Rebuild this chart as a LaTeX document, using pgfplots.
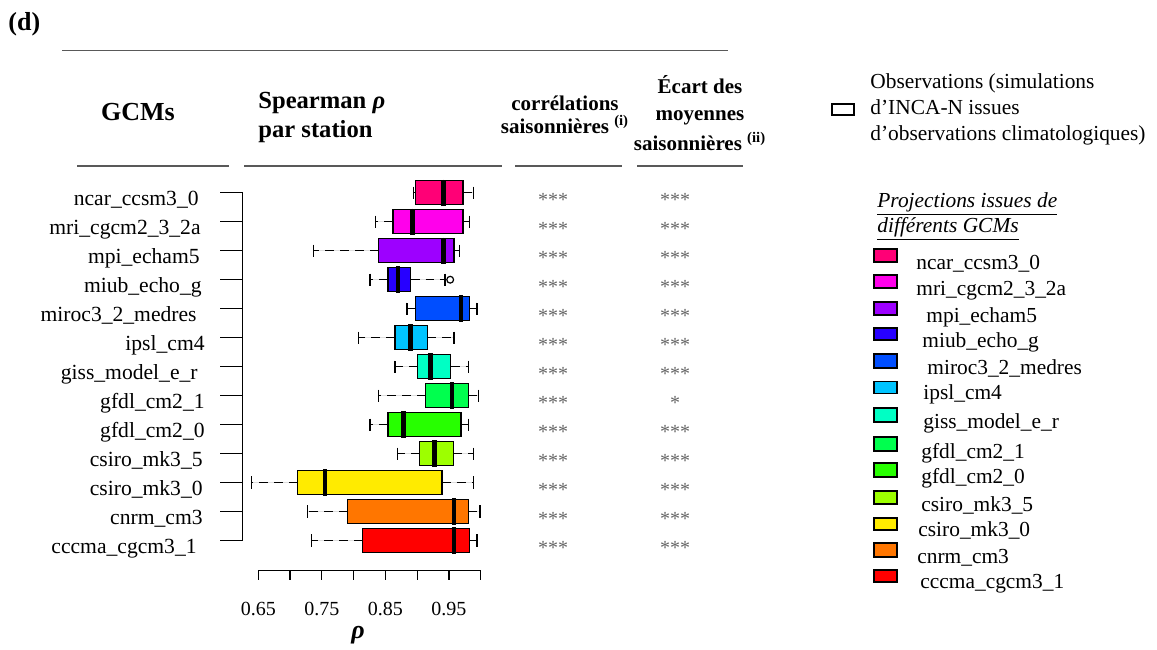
\documentclass[border=0pt]{standalone}
\usepackage{pgfplots}
\pgfplotsset{compat=1.18}
\usepgfplotslibrary{statistics}
\usepackage{fontspec}
\setmainfont{Liberation Serif}
\definecolor{cNcar}{HTML}{FF0076}
\definecolor{cMri}{HTML}{FF00EB}
\definecolor{cMpi}{HTML}{9D00FF}
\definecolor{cMiub}{HTML}{2700FF}
\definecolor{cMiroc}{HTML}{004EFF}
\definecolor{cIpsl}{HTML}{00C4FF}
\definecolor{cGiss}{HTML}{00FFC4}
\definecolor{cGfdlA}{HTML}{00FF4E}
\definecolor{cGfdlB}{HTML}{27FF00}
\definecolor{cCsiroA}{HTML}{9DFF00}
\definecolor{cCsiroB}{HTML}{FFEB00}
\definecolor{cCnrm}{HTML}{FF7600}
\definecolor{cCccma}{HTML}{FF0000}
\pgfplotsset{
  boxplot/draw direction=x,
  boxplot/box extend=0.83,
  boxplot/whisker extend=0.42,
  boxplot/draw/lower whisker/.code={%
    \draw[black, line width=0.7pt, dash pattern=on 4.4pt off 3pt]
      (boxplot box cs:\pgfplotsboxplotvalue{lower quartile},0.5) --
      (boxplot box cs:\pgfplotsboxplotvalue{lower whisker},0.5);
    \draw[black, line width=0.7pt, solid]
      (boxplot whisker cs:\pgfplotsboxplotvalue{lower whisker},0) --
      (boxplot whisker cs:\pgfplotsboxplotvalue{lower whisker},1);
  },
  boxplot/draw/upper whisker/.code={%
    \draw[black, line width=0.7pt, dash pattern=on 4.4pt off 3pt]
      (boxplot box cs:\pgfplotsboxplotvalue{upper quartile},0.5) --
      (boxplot box cs:\pgfplotsboxplotvalue{upper whisker},0.5);
    \draw[black, line width=0.7pt, solid]
      (boxplot whisker cs:\pgfplotsboxplotvalue{upper whisker},0) --
      (boxplot whisker cs:\pgfplotsboxplotvalue{upper whisker},1);
  },
  boxplot/draw/median/.code={%
    \draw[black, line width=2.3pt]
      (boxplot box cs:\pgfplotsboxplotvalue{median},-0.05) --
      (boxplot box cs:\pgfplotsboxplotvalue{median},1.05);
  },
  gbox/.style={draw=black, line width=0.6pt, solid},
}
\begin{document}
\begin{tikzpicture}
\begin{axis}[
  at={(119.6pt,-286.2pt)}, anchor=south west,
  scale only axis, width=127.1pt, height=204.3pt,
  xmin=0.62, xmax=1.02, ymin=-0.1, ymax=14,
  hide axis, clip=false,
]
\addplot[gbox, fill=cNcar, boxplot prepared={draw position=13, lower whisker=0.894, lower quartile=0.898, median=0.941, upper quartile=0.972, upper whisker=0.989}] coordinates {};
\addplot[gbox, fill=cMri, boxplot prepared={draw position=12, lower whisker=0.834, lower quartile=0.862, median=0.893, upper quartile=0.972, upper whisker=0.982}] coordinates {};
\addplot[gbox, fill=cMpi, boxplot prepared={draw position=11, lower whisker=0.737, lower quartile=0.839, median=0.941, upper quartile=0.958, upper whisker=0.967}] coordinates {};
\addplot[gbox, fill=cMiub, mark=o, mark size=1.7pt, mark options={solid, fill=none, line width=0.6pt}, boxplot prepared={draw position=10, lower whisker=0.826, lower quartile=0.854, median=0.870, upper quartile=0.890, upper whisker=0.944}] coordinates {(0,0.952)};
\addplot[gbox, fill=cMiroc, boxplot prepared={draw position=9, lower whisker=0.884, lower quartile=0.898, median=0.969, upper quartile=0.983, upper whisker=0.994}] coordinates {};
\addplot[gbox, fill=cIpsl, boxplot prepared={draw position=8, lower whisker=0.808, lower quartile=0.865, median=0.890, upper quartile=0.916, upper whisker=0.958}] coordinates {};
\addplot[gbox, fill=cGiss, boxplot prepared={draw position=7, lower whisker=0.865, lower quartile=0.901, median=0.921, upper quartile=0.953, upper whisker=0.981}] coordinates {};
\addplot[gbox, fill=cGfdlA, boxplot prepared={draw position=6, lower whisker=0.839, lower quartile=0.913, median=0.955, upper quartile=0.981, upper whisker=0.997}] coordinates {};
\addplot[gbox, fill=cGfdlB, boxplot prepared={draw position=5, lower whisker=0.826, lower quartile=0.854, median=0.879, upper quartile=0.969, upper whisker=0.981}] coordinates {};
\addplot[gbox, fill=cCsiroA, boxplot prepared={draw position=4, lower whisker=0.869, lower quartile=0.904, median=0.927, upper quartile=0.957, upper whisker=0.989}] coordinates {};
\addplot[gbox, fill=cCsiroB, boxplot prepared={draw position=3, lower whisker=0.639, lower quartile=0.712, median=0.755, upper quartile=0.939, upper whisker=0.989}] coordinates {};
\addplot[gbox, fill=cCnrm, boxplot prepared={draw position=2, lower whisker=0.727, lower quartile=0.791, median=0.958, upper quartile=0.981, upper whisker=0.999}] coordinates {};
\addplot[gbox, fill=cCccma, boxplot prepared={draw position=1, lower whisker=0.734, lower quartile=0.814, median=0.958, upper quartile=0.983, upper whisker=0.994}] coordinates {};
\end{axis}
\begin{scope}[x=0.5pt,y=-0.5pt]
\path (0,0) rectangle (1157,649);
% title and table rules
\node[anchor=base west, inner sep=0, font=\fontsize{13}{15}\selectfont\bfseries] at (8,30) {(d)};
\draw[black!65, line width=0.7pt] (62,50.5) -- (728,50.5);
\draw[black!65, line width=0.7pt] (77,166) -- (229,166);
\draw[black!65, line width=0.7pt] (244,166) -- (502,166);
\draw[black!65, line width=0.7pt] (515,166) -- (622,166);
\draw[black!65, line width=0.7pt] (637,166) -- (743,166);
% headers
\node[anchor=base, inner sep=0, font=\fontsize{13}{15}\selectfont\bfseries] at (138,120) {GCMs};
\node[anchor=base west, inner sep=0, font=\fontsize{12.3}{14}\selectfont\bfseries] at (258,108) {Spearman \textit{ρ}};
\node[anchor=base west, inner sep=0, font=\fontsize{12.3}{14}\selectfont\bfseries] at (258,137) {par station};
\node[anchor=base, inner sep=0, font=\fontsize{10.5}{12}\selectfont\bfseries] at (565,110) {corrélations};
\node[anchor=base, inner sep=0, font=\fontsize{10.5}{12}\selectfont\bfseries] at (565,133) {saisonnières \textsuperscript{(i)}};
\node[anchor=base, inner sep=0, font=\fontsize{10.5}{12}\selectfont\bfseries] at (700,93) {Écart des};
\node[anchor=base, inner sep=0, font=\fontsize{10.5}{12}\selectfont\bfseries] at (700,120) {moyennes};
\node[anchor=base, inner sep=0, font=\fontsize{10.5}{12}\selectfont\bfseries] at (700,150) {saisonnières \textsuperscript{(ii)}};
% GCM names
\begin{scope}[every node/.style={anchor=base east, inner sep=0, font=\fontsize{10.8}{12}\selectfont}]
\node at (199,205.7) {ncar\_ccsm3\_0};
\node at (201,234.7) {mri\_cgcm2\_3\_2a};
\node at (200,263.7) {mpi\_echam5};
\node at (202,292.6) {miub\_echo\_g};
\node at (197,321.6) {miroc3\_2\_medres};
\node at (205,350.6) {ipsl\_cm4};
\node at (198,379.6) {giss\_model\_e\_r};
\node at (205,408.6) {gfdl\_cm2\_1};
\node at (205,437.5) {gfdl\_cm2\_0};
\node at (203,466.5) {csiro\_mk3\_5};
\node at (203,495.5) {csiro\_mk3\_0};
\node at (203,524.5) {cnrm\_cm3};
\node at (197,553.5) {cccma\_cgcm3\_1};
\end{scope}
% y axis
\draw[line width=0.6pt] (242.5,192.7) -- (242.5,540.5);
\foreach \i in {0,...,12} {\draw[line width=0.6pt] (220,{192.7+\i*28.98}) -- (242.5,{192.7+\i*28.98});}
% x axis
\draw[line width=0.6pt] (258.3,570.7) -- (480.7,570.7);
\foreach \i in {0,...,7} {\draw[line width=0.6pt] ({258.3+\i*31.77},570.7) -- ({258.3+\i*31.77},580);}
\begin{scope}[every node/.style={anchor=base, inner sep=0, font=\fontsize{10}{12}\selectfont}]
\node at (258.3,615) {0.65};
\node at (321.8,615) {0.75};
\node at (385.4,615) {0.85};
\node at (448.9,615) {0.95};
\end{scope}
\node[anchor=base, inner sep=0, font=\fontsize{13}{15}\selectfont\bfseries\itshape] at (358,638) {ρ};
% significance stars
\begin{scope}[every node/.style={anchor=base, inner sep=0, text=black!60, font=\fontsize{10}{12}\selectfont}]
\foreach \i in {0,...,12} {\node at (553,{206.7+\i*28.98}) {***};}
\foreach \i in {0,...,6,8,9,10,11,12} {\node at (675,{206.7+\i*28.98}) {***};}
\node at (675,{206.7+7*28.98}) {*};
\end{scope}
% legend
\draw[line width=0.9pt] (832,104) rectangle (854,115);
\begin{scope}[every node/.style={anchor=base west, inner sep=0, font=\fontsize{10.7}{12}\selectfont}]
\node at (870,88) {Observations (simulations};
\node at (870,114) {d’INCA-N issues};
\node at (870,140) {d’observations climatologiques)};
\node at (877,207) {\itshape\underline{Projections issues de}};
\node at (877,232) {\itshape\underline{différents GCMs}};
\node at (916,269) {ncar\_ccsm3\_0};
\node at (916,295) {mri\_cgcm2\_3\_2a};
\node at (926,322) {mpi\_echam5};
\node at (922,347) {miub\_echo\_g};
\node at (927,374) {miroc3\_2\_medres};
\node at (923,399) {ipsl\_cm4};
\node at (923,428) {giss\_model\_e\_r};
\node at (921,458) {gfdl\_cm2\_1};
\node at (921,483) {gfdl\_cm2\_0};
\node at (921,511) {csiro\_mk3\_5};
\node at (918,536) {csiro\_mk3\_0};
\node at (917,563) {cnrm\_cm3};
\node at (920,588) {cccma\_cgcm3\_1};
\end{scope}
\begin{scope}[line width=0.7pt]
\filldraw[fill=cNcar] (874,249) rectangle (897,262);
\filldraw[fill=cMri] (874,275) rectangle (897,288);
\filldraw[fill=cMpi] (874,302) rectangle (897,315);
\filldraw[fill=cMiub] (874,328) rectangle (897,340);
\filldraw[fill=cMiroc] (874,354) rectangle (897,368);
\filldraw[fill=cIpsl] (874,381.7) rectangle (897,393.3);
\filldraw[fill=cGiss] (874,408) rectangle (897,422);
\filldraw[fill=cGfdlA] (874,437) rectangle (897,451);
\filldraw[fill=cGfdlB] (874,463) rectangle (897,477);
\filldraw[fill=cCsiroA] (874,491) rectangle (897,504);
\filldraw[fill=cCsiroB] (874,518) rectangle (897,530);
\filldraw[fill=cCnrm] (874,543) rectangle (897,557);
\filldraw[fill=cCccma] (874,570) rectangle (897,582);
\end{scope}
\end{scope}
\end{tikzpicture}
\end{document}
